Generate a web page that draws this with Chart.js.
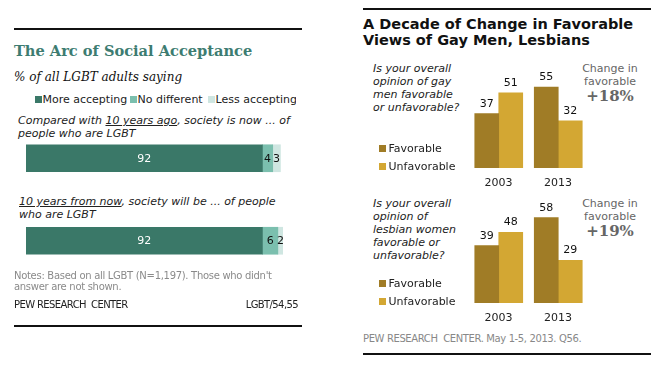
<!DOCTYPE html>
<html><head><meta charset="utf-8">
<script src="https://cdn.jsdelivr.net/npm/chart.js@4/dist/chart.umd.min.js"></script>
<style>
html,body{margin:0;padding:0;background:#fff;}
#root{position:relative;width:660px;height:365px;overflow:hidden;font-family:"DejaVu Sans",Verdana,sans-serif;font-size:11px;color:#222;}
.t{position:absolute;white-space:nowrap;line-height:13px;}
.i{font-style:italic;}
.rule{position:absolute;height:1.5px;background:#111;}
.sq{position:absolute;width:7px;height:7px;}
.gray{color:#666;}
.note{color:#8a8a8a;font-size:10px;letter-spacing:-0.3px;line-height:11px;}
.src{font-size:10px;letter-spacing:-0.6px;}
.src2{font-size:10px;letter-spacing:-0.38px;color:#888;}
.chg{color:#666;text-align:center;width:70px;}
.big{font-family:"DejaVu Serif",Georgia,serif;font-weight:bold;font-size:15px;line-height:18px;}
canvas{position:absolute;}
</style></head>
<body>
<div id="root">
  <!-- Left panel -->
  <div class="rule" style="left:14px;top:28px;width:288px;"></div>
  <div class="t" style="left:14px;top:41px;line-height:20px;font-family:'DejaVu Serif',Georgia,serif;font-weight:bold;font-size:14.6px;color:#3d7c71;">The Arc of Social Acceptance</div>
  <div class="t" style="left:14px;top:69px;line-height:16px;font-family:'DejaVu Serif',Georgia,serif;font-style:italic;font-size:12px;color:#111;">% of all LGBT adults saying</div>
  <div id="legL" style="position:absolute;left:0;top:0;width:296px;height:110px;overflow:hidden;"></div>
  <div class="t i" style="left:18px;top:114px;">Compared with <u>10 years ago</u>, society is now ... of</div>
  <div class="t i" style="left:18px;top:127px;">people who are LGBT</div>
  <div class="t i" style="left:19px;top:195px;"><u>10 years from now</u>, society will be ... of people</div>
  <div class="t i" style="left:19px;top:208px;">who are LGBT</div>
  <canvas id="cAccept" width="257" height="165" style="left:26px;top:117px;"></canvas>
  <div class="t note" style="left:14px;top:270px;">Notes: Based on all LGBT (N=1,197). Those who didn't</div>
  <div class="t note" style="left:14px;top:281px;">answer are not shown.</div>
  <div class="t src" style="left:14px;top:298px;">PEW RESEARCH&nbsp; CENTER</div>
  <div class="t src" style="right:362px;top:298px;">LGBT/54,55</div>
  <div class="rule" style="left:14px;top:325px;width:288px;"></div>

  <!-- Right panel -->
  <div class="rule" style="left:363px;top:8px;width:288px;"></div>
  <div class="t" style="left:363px;top:15px;line-height:18px;font-weight:bold;font-size:14.5px;color:#111;">A Decade of Change in Favorable</div>
  <div class="t" style="left:363px;top:31px;line-height:18px;font-weight:bold;font-size:14.5px;color:#111;">Views of Gay Men, Lesbians</div>

  <div class="t i" style="left:373px;top:61.5px;">Is your overall</div>
  <div class="t i" style="left:373px;top:74.5px;">opinion of gay</div>
  <div class="t i" style="left:373px;top:88px;">men favorable</div>
  <div class="t i" style="left:373px;top:100.5px;">or unfavorable?</div>
  <div class="t chg" style="left:575px;top:61.5px;">Change in</div>
  <div class="t chg" style="left:575px;top:74.5px;">favorable</div>
  <div class="t chg big" id="chg0" style="left:575px;top:87px;"></div>
  <canvas id="cGay" width="119" height="106" style="left:469px;top:62px;"></canvas>

  <div class="t i" style="left:373px;top:196.5px;">Is your overall</div>
  <div class="t i" style="left:373px;top:209.5px;">opinion of</div>
  <div class="t i" style="left:373px;top:222.5px;">lesbian women</div>
  <div class="t i" style="left:373px;top:235.5px;">favorable or</div>
  <div class="t i" style="left:373px;top:248.5px;">unfavorable?</div>
  <div class="t chg" style="left:575px;top:196.5px;">Change in</div>
  <div class="t chg" style="left:575px;top:209.5px;">favorable</div>
  <div class="t chg big" id="chg1" style="left:575px;top:222px;"></div>
  <canvas id="cLes" width="119" height="106" style="left:469px;top:197px;"></canvas>

  <div class="t src2" style="left:363px;top:331.5px;">PEW RESEARCH&nbsp; CENTER. May 1-5, 2013. Q56.</div>
  <div class="rule" style="left:363px;top:353px;width:288px;"></div>
</div>
<script>
// ---- Data ----
const acceptQuestions = ['Compared with 10 years ago', '10 years from now'];
const acceptSeries = ['More accepting', 'No different', 'Less accepting'];
const moreAccepting = [92, 92];
const noDifferent = [4, 6];
const lessAccepting = [3, 2];

const years = ['2003', '2013'];
const opinionSeries = ['Favorable', 'Unfavorable'];
const gayFavorable = [37, 55];
const gayUnfavorable = [51, 32];
const lesbianFavorable = [39, 58];
const lesbianUnfavorable = [48, 29];
const changeLabels = ['+18%', '+19%'];

// ---- Styles ----
const tealColors = ['#3a7868', '#7bbfae', '#cfe6e1'];
const goldColors = ['#a07c26', '#d3a733'];

const root = document.getElementById('root');
function addText(parent, txt, left, top, extra) {
  const d = document.createElement('div');
  d.className = 't';
  d.textContent = txt;
  d.style.left = left + 'px';
  d.style.top = top + 'px';
  if (extra) Object.assign(d.style, extra);
  parent.appendChild(d);
  return d;
}
function addSq(parent, color, left, top) {
  const s = document.createElement('div');
  s.className = 'sq';
  s.style.background = color;
  s.style.left = left + 'px';
  s.style.top = top + 'px';
  parent.appendChild(s);
}

// Left legend
const legL = document.getElementById('legL');
const legLX = [35, 130, 208];
acceptSeries.forEach((s, i) => {
  addSq(legL, tealColors[i], legLX[i], 95.5);
  addText(legL, s, legLX[i] + 7.5, 92.5);
});

// Right legends & years
[148, 283].forEach((cy0) => {
  [cy0, cy0 + 18].forEach((cy, i) => {
    addSq(root, goldColors[i], 379, cy - 3.5);
    addText(root, opinionSeries[i], 388.5, cy - 6.5);
  });
});
[182, 317].forEach((cy) => {
  years.forEach((y, i) => {
    addText(root, y, [484.5, 544][i], cy - 6.5);
  });
});
document.getElementById('chg0').textContent = changeLabels[0];
document.getElementById('chg1').textContent = changeLabels[1];

// Value label plugin
const valueLabels = {
  id: 'valueLabels',
  afterDatasetsDraw(chart, args, opts) {
    const ctx = chart.ctx;
    ctx.save();
    ctx.font = '11px "DejaVu Sans"';
    ctx.textAlign = 'center';
    chart.data.datasets.forEach((ds, i) => {
      const meta = chart.getDatasetMeta(i);
      meta.data.forEach((el, j) => {
        const v = ds.data[j];
        if (opts.horizontal) {
          ctx.fillStyle = i === 0 ? '#ffffff' : '#111';
          ctx.textBaseline = 'middle';
          ctx.fillText(String(v), (el.x + el.base) / 2, el.y + 0.5);
        } else {
          ctx.fillStyle = '#111';
          ctx.textBaseline = 'alphabetic';
          ctx.fillText(String(v), el.x, el.y - 7);
        }
      });
    });
    ctx.restore();
  }
};

Chart.defaults.font.family = '"DejaVu Sans", Verdana, sans-serif';

new Chart(document.getElementById('cAccept'), {
  type: 'bar',
  data: {
    labels: acceptQuestions,
    datasets: [
      { label: acceptSeries[0], data: moreAccepting, backgroundColor: tealColors[0] },
      { label: acceptSeries[1], data: noDifferent, backgroundColor: tealColors[1] },
      { label: acceptSeries[2], data: lessAccepting, backgroundColor: tealColors[2] }
    ]
  },
  options: {
    indexAxis: 'y',
    responsive: false,
    animation: false,
    devicePixelRatio: 1,
    layout: { padding: 0 },
    datasets: { bar: { barThickness: 27, borderWidth: 0 } },
    scales: {
      x: { display: false, stacked: true, min: 0, max: 100 },
      y: { display: false, stacked: true }
    },
    plugins: { legend: { display: false }, tooltip: { enabled: false }, valueLabels: { horizontal: true } }
  },
  plugins: [valueLabels]
});

function opinionChart(id, fav, unfav) {
  new Chart(document.getElementById(id), {
    type: 'bar',
    data: {
      labels: years,
      datasets: [
        { label: opinionSeries[0], data: fav, backgroundColor: goldColors[0] },
        { label: opinionSeries[1], data: unfav, backgroundColor: goldColors[1] }
      ]
    },
    options: {
      responsive: false,
      animation: false,
      devicePixelRatio: 1,
      layout: { padding: 0 },
      datasets: { bar: { barThickness: 24, borderWidth: 0 } },
      scales: {
        x: { display: false },
        y: { display: false, min: 0, max: 72 }
      },
      plugins: { legend: { display: false }, tooltip: { enabled: false }, valueLabels: { horizontal: false } }
    },
    plugins: [valueLabels]
  });
}
opinionChart('cGay', gayFavorable, gayUnfavorable);
opinionChart('cLes', lesbianFavorable, lesbianUnfavorable);
</script>
</body></html>
